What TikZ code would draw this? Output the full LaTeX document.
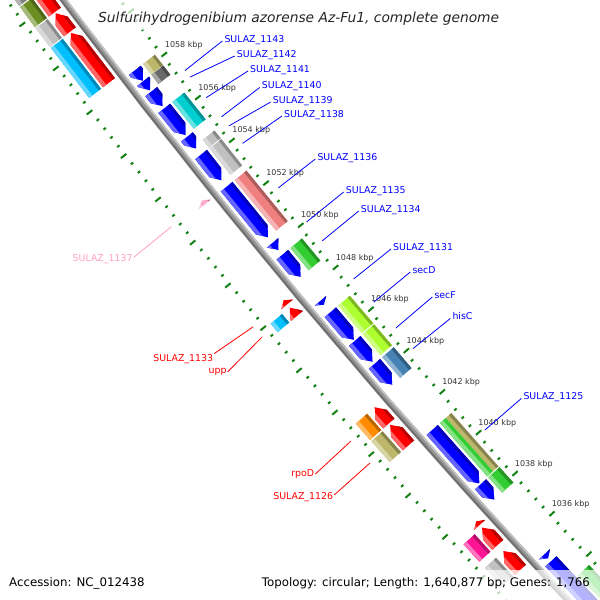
\documentclass[tikz,border=0pt]{standalone}
\usepackage{fontspec}
\setmainfont{DejaVu Sans}
\definecolor{cblue}{RGB}{0,0,255}
\definecolor{cred}{RGB}{255,0,0}
\definecolor{ckhaki}{RGB}{189,183,107}
\definecolor{cdimgray}{RGB}{105,105,105}
\definecolor{cturq}{RGB}{0,206,209}
\definecolor{csilver}{RGB}{192,192,192}
\definecolor{ccoral}{RGB}{240,128,128}
\definecolor{clime}{RGB}{50,205,50}
\definecolor{cgy}{RGB}{173,255,47}
\definecolor{csteel}{RGB}{70,130,180}
\definecolor{colive}{RGB}{107,142,35}
\definecolor{csky}{RGB}{0,191,255}
\definecolor{corange}{RGB}{255,140,0}
\definecolor{cdeeppink}{RGB}{255,20,147}
\definecolor{cpink}{RGB}{255,170,205}
\definecolor{cgray}{RGB}{128,128,128}
\definecolor{tickgreen}{RGB}{20,130,20}
\definecolor{labpink}{RGB}{255,160,200}
\definecolor{bbdark}{RGB}{110,110,110}
\definecolor{bbmid}{RGB}{150,150,150}
\definecolor{bblight}{RGB}{195,195,195}
% shaded band between S1,S2 and radial offsets a,b
\newcommand\gShade[5]{%
  \fill[#5] ({ang(#1-0.1)}:{rr(#3-1)}) -- ({ang(#2+0.1)}:{rr(#3-1)}) -- ({ang(#2+0.1)}:{rr(#4+1)}) -- ({ang(#1-0.1)}:{rr(#4+1)}) -- cycle;
  \fill[#5!72!black] ({ang(#1-0.1)}:{rr(#3-1)}) -- ({ang(#2+0.1)}:{rr(#3-1)}) -- ({ang(#2+0.1)}:{rr(#3+3)}) -- ({ang(#1-0.1)}:{rr(#3+3)}) -- cycle;
  \fill[#5!60!white] ({ang(#1-0.1)}:{rr(#4-4)}) -- ({ang(#2+0.1)}:{rr(#4-4)}) -- ({ang(#2+0.1)}:{rr(#4+1)}) -- ({ang(#1-0.1)}:{rr(#4+1)}) -- cycle;
}
\newcommand\gBox[5]{%
  \begin{scope}
  \clip ({ang(#1)}:{rr(#3)}) -- ({ang(#2)}:{rr(#3)}) -- ({ang(#2)}:{rr(#4)}) -- ({ang(#1)}:{rr(#4)}) -- cycle;
  \gShade{#1}{#2}{#3}{#4}{#5}
  \end{scope}}
\newcommand\gCogR[3]{\gBox{#1}{#2}{14.5}{29.5}{#3}}
\newcommand\gCogF[3]{\gBox{#1}{#2}{78}{93}{#3}}
\newcommand\gRev[3]{%
  \pgfmathsetmacro\hb{min(#1+0.36,#2)}%
  \begin{scope}
  \clip ({ang(#2)}:{rr(32.5)}) -- ({ang(\hb)}:{rr(32.5)}) -- ({ang(#1)}:{rr(40)}) -- ({ang(\hb)}:{rr(47.5)}) -- ({ang(#2)}:{rr(47.5)}) -- cycle;
  \gShade{#1}{#2}{32.5}{47.5}{#3}
  \end{scope}}
\newcommand\gFwd[3]{%
  \pgfmathsetmacro\hb{max(#2-0.36,#1)}%
  \begin{scope}
  \clip ({ang(#1)}:{rr(60.5)}) -- ({ang(\hb)}:{rr(60.5)}) -- ({ang(#2)}:{rr(68)}) -- ({ang(\hb)}:{rr(75.5)}) -- ({ang(#1)}:{rr(75.5)}) -- cycle;
  \gShade{#1}{#2}{60.5}{75.5}{#3}
  \end{scope}}
\begin{document}
\begin{tikzpicture}[x=1pt,y=-1pt,
  declare function={ang(\s)=139.8329+(\s-1047)*0.2194; rr(\v)=7129+\v;},
  tk/.style={line width=2pt, draw=tickgreen},
  kbp/.style={font=\fontsize{8}{9}\selectfont, text=black!80, inner sep=0pt, anchor=base west, yshift=-3.5pt},
  glab/.style={font=\fontsize{9.4}{11}\selectfont},
  bl/.style={glab, text=blue, inner sep=0pt, anchor=base west},
  rl/.style={glab, text=red, inner sep=1pt, anchor=base east},
  pl/.style={glab, text=labpink, inner sep=1pt, anchor=base east},
  bline/.style={draw=blue, line width=0.8pt},
  rline/.style={draw=red, line width=0.8pt},
  pline/.style={draw=labpink, line width=0.8pt},
  veil/.style={fill=white, opacity=0.7}]
\useasboundingbox (0,0) rectangle (600,600);
\begin{scope}
\clip (0,0) rectangle (600,600);
\fill[white] (0,0) rectangle (600,600);
\begin{scope}[shift={(5806.1,-4314.4)}]
% tick rings
\foreach \i in {0,...,90}{%
  \pgfmathsetmacro\tS{1030+0.4*\i}%
  \pgfmathtruncatemacro\tm{mod(\i,5)}%
  \ifnum\tm=0 \def\tIn{3.5}\def\tOut{105}\else\def\tIn{7.5}\def\tOut{101}\fi
  \draw[tk] ({ang(\tS)}:{rr(10.5)}) -- ({ang(\tS)}:{rr(\tIn)});
  \draw[tk] ({ang(\tS)}:{rr(98)}) -- ({ang(\tS)}:{rr(\tOut)});
}
\foreach \k in {1036,1038,...,1058}{\node[kbp] (kbp\k) at ({ang(\k)+0.0671}:{rr(0)}) {\k\ kbp};}
% reverse strand COG blocks
\gCogR{1057.72}{1058.20}{ckhaki}
\gCogR{1057.28}{1057.70}{cdimgray}
\gCogR{1055.20}{1056.45}{cturq}
\gCogR{1054.32}{1054.68}{csilver}
\gCogR{1053.05}{1054.28}{csilver}
\gCogR{1050.42}{1052.80}{ccoral}
\gCogR{1048.55}{1049.60}{clime}
\gCogR{1045.55}{1046.87}{cgy}
\gCogR{1044.50}{1045.50}{cgy}
\gCogR{1043.40}{1044.40}{csteel}
\begin{scope}
  \clip ({ang(1038.6)}:{rr(14.5)}) -- ({ang(1041.2)}:{rr(14.5)}) -- ({ang(1041.2)}:{rr(29.5)}) -- ({ang(1038.6)}:{rr(29.5)}) -- cycle;
  \fill[ckhaki] ({ang(1038.5)}:{rr(13)}) -- ({ang(1041.3)}:{rr(13)}) -- ({ang(1041.3)}:{rr(22)}) -- ({ang(1038.5)}:{rr(22)}) -- cycle;
  \fill[ckhaki!72!black] ({ang(1038.5)}:{rr(13)}) -- ({ang(1041.3)}:{rr(13)}) -- ({ang(1041.3)}:{rr(17.5)}) -- ({ang(1038.5)}:{rr(17.5)}) -- cycle;
  \fill[clime] ({ang(1038.5)}:{rr(22)}) -- ({ang(1041.3)}:{rr(22)}) -- ({ang(1041.3)}:{rr(31)}) -- ({ang(1038.5)}:{rr(31)}) -- cycle;
  \fill[clime!60!white] ({ang(1038.5)}:{rr(25.5)}) -- ({ang(1041.3)}:{rr(25.5)}) -- ({ang(1041.3)}:{rr(31)}) -- ({ang(1038.5)}:{rr(31)}) -- cycle;
\end{scope}
\gCogR{1037.80}{1038.55}{clime}
\gCogR{1030.50}{1033.70}{clime}
% reverse strand CDS
\gRev{1057.72}{1058.20}{cblue}
\gRev{1057.28}{1057.70}{cblue}
\gRev{1056.55}{1057.22}{cblue}
\gRev{1055.20}{1056.45}{cblue}
\gRev{1054.58}{1055.12}{cblue}
\gRev{1053.10}{1054.30}{cblue}
\gRev{1050.42}{1052.80}{cblue}
\gRev{1049.82}{1050.16}{cblue}
\gRev{1048.55}{1049.60}{cblue}
\gRev{1047.23}{1047.42}{cblue}
\gRev{1045.55}{1046.87}{cblue}
\gRev{1044.50}{1045.50}{cblue}
\gRev{1043.40}{1044.40}{cblue}
\gRev{1038.60}{1041.20}{cblue}
\gRev{1037.80}{1038.55}{cblue}
\gRev{1034.90}{1035.10}{cblue}
\gRev{1030.50}{1034.75}{cblue}
% backbone
\draw[line width=6.5pt, bbmid] plot[domain=1028:1066, samples=39] ({ang(\x)}:{rr(54)});
\draw[line width=1.8pt, bbdark] plot[domain=1028:1066, samples=39] ({ang(\x)}:{rr(55.9)});
\draw[line width=1.6pt, bblight] plot[domain=1028:1066, samples=39] ({ang(\x)}:{rr(51.6)});
% forward strand CDS
\gFwd{1061.65}{1064.50}{cred}
\gFwd{1060.75}{1061.60}{cred}
\gFwd{1058.42}{1060.70}{cred}
\gFwd{1052.80}{1052.98}{cpink}
\gFwd{1048.10}{1048.30}{cred}
\gFwd{1047.55}{1047.95}{cred}
\gFwd{1042.42}{1043.20}{cred}
\gFwd{1041.35}{1042.35}{cred}
\gFwd{1037.48}{1037.66}{cred}
\gFwd{1036.50}{1037.35}{cred}
\gFwd{1035.28}{1036.20}{cred}
% forward strand COG blocks
\gCogF{1062.60}{1064.50}{cgray}
\gCogF{1061.65}{1062.55}{colive}
\gCogF{1060.75}{1061.60}{csilver}
\gCogF{1058.42}{1060.70}{csky}
\gCogF{1047.55}{1047.95}{csky}
\gCogF{1042.42}{1043.20}{corange}
\gCogF{1041.35}{1042.35}{ckhaki}
\gCogF{1036.50}{1037.35}{cdeeppink}
\gCogF{1035.28}{1036.20}{csilver}
% label line ends
\coordinate (e1143) at ({ang(1057.07)}:{rr(0.5)});
\coordinate (e1142) at ({ang(1056.77)}:{rr(0.5)});
\coordinate (e1141) at ({ang(1055.81)}:{rr(0.5)});
\coordinate (e1140) at ({ang(1054.91)}:{rr(0.5)});
\coordinate (e1139) at ({ang(1054.48)}:{rr(0.5)});
\coordinate (e1138) at ({ang(1053.67)}:{rr(0.5)});
\coordinate (e1136) at ({ang(1051.58)}:{rr(0.5)});
\coordinate (e1135) at ({ang(1049.96)}:{rr(0.5)});
\coordinate (e1134) at ({ang(1049.06)}:{rr(0.5)});
\coordinate (e1131) at ({ang(1047.25)}:{rr(0.5)});
\coordinate (esecD) at ({ang(1046.13)}:{rr(0.5)});
\coordinate (esecF) at ({ang(1044.88)}:{rr(0.5)});
\coordinate (ehisC) at ({ang(1043.90)}:{rr(0.5)});
\coordinate (e1125) at ({ang(1039.92)}:{rr(0.5)});
\coordinate (e1137) at ({ang(1052.93)}:{rr(108.3)});
\coordinate (e1133) at ({ang(1048.27)}:{rr(108.3)});
\coordinate (eupp) at ({ang(1047.78)}:{rr(108.3)});
\coordinate (erpoD) at ({ang(1042.84)}:{rr(108.3)});
\coordinate (e1126) at ({ang(1041.79)}:{rr(108.3)});
\end{scope}
% feature labels (inner side, blue)
\node[bl] (n1143) at (224.3,42) {SULAZ\_1143};
\node[bl] (n1142) at (236.7,57) {SULAZ\_1142};
\node[bl] (n1141) at (250,72) {SULAZ\_1141};
\node[bl] (n1140) at (261.7,88.5) {SULAZ\_1140};
\node[bl] (n1139) at (272.7,103) {SULAZ\_1139};
\node[bl] (n1138) at (284,117) {SULAZ\_1138};
\node[bl] (n1136) at (317.3,160) {SULAZ\_1136};
\node[bl] (n1135) at (345.7,193) {SULAZ\_1135};
\node[bl] (n1134) at (360.7,212) {SULAZ\_1134};
\node[bl] (n1131) at (393,250) {SULAZ\_1131};
\node[bl] (nsecD) at (412.3,273) {secD};
\node[bl] (nsecF) at (434.3,298) {secF};
\node[bl] (nhisC) at (452.3,319.5) {hisC};
\node[bl] (n1125) at (523.3,399.5) {SULAZ\_1125};
\foreach \n in {1143,1142,1141,1140,1139,1138,1136,1135,1134,1131,secD,secF,hisC,1125}{
  \draw[bline] ([shift={(-2pt,1pt)}]n\n.base west) -- (e\n);}
% feature labels (outer side)
\node[pl] (n1137) at (133.7,261.7) {SULAZ\_1137};
\node[rl] (n1133) at (214.3,361.7) {SULAZ\_1133};
\node[rl] (nupp) at (227.7,373.5) {upp};
\node[rl] (nrpoD) at (315.3,476.5) {rpoD};
\node[rl] (n1126) at (334.3,499.3) {SULAZ\_1126};
\draw[pline] ([yshift=2pt]n1137.east) -- (e1137);
\draw[rline] (n1133.north east) -- (e1133);
\draw[rline] (nupp.east) -- (eupp);
\draw[rline] (nrpoD.east) -- (erpoD);
\draw[rline] ([yshift=2pt]n1126.east) -- (e1126);
% title and legend
\fill[veil] (90,0) rectangle (507,30);
\fill[veil] (0,570) rectangle (600,600);
\node[anchor=base west, inner sep=0pt, font=\fontsize{13.8}{16}\selectfont\itshape, text=black!85] (title) at (98,22.7) {Sulfurihydrogenibium azorense Az-Fu1, complete genome};
\node[anchor=base west, inner sep=0pt, font=\fontsize{11.8}{14}\selectfont, text=black] (acc) at (9,586.5) {Accession: NC\_012438};
\node[anchor=base east, inner sep=0pt, font=\fontsize{11.8}{14}\selectfont, text=black] (topo) at (590,586.5) {Topology: circular; Length: 1,640,877 bp; Genes: 1,766};
\end{scope}
\end{tikzpicture}
\end{document}
